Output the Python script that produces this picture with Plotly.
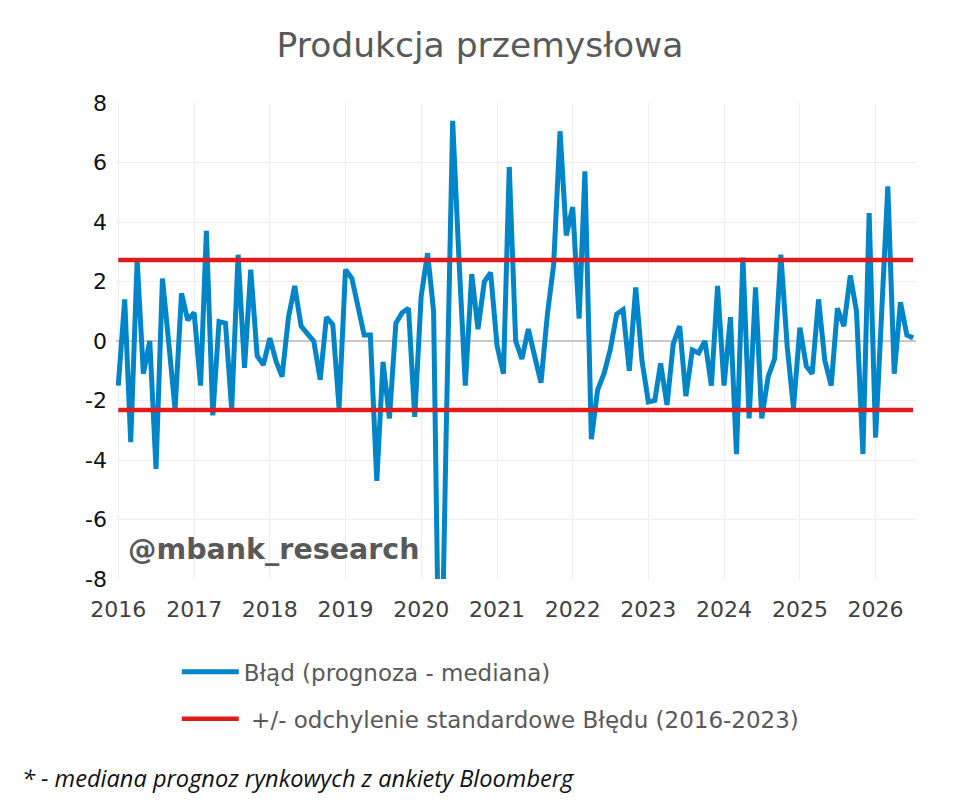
import pandas as pd
import plotly.graph_objs as go

# monthly forecast error, Jan 2016 .. Jul 2026
months = pd.date_range("2016-01-01", periods=127, freq="MS")
blad = [
    -1.5, 1.4, -3.4, 2.7, -1.1, 0.0, -4.3, 2.1, -0.1, -2.3, 1.6, 0.7,      # 2016
    0.95, -1.5, 3.7, -2.5, 0.65, 0.6, -2.3, 2.9, -0.9, 2.4, -0.5, -0.8,    # 2017
    0.1, -0.7, -1.2, 0.8, 1.85, 0.5, 0.25, 0.0, -1.3, 0.8, 0.55, -2.25,    # 2018
    2.4, 2.1, 1.2, 0.2, 0.2, -4.7, -0.7, -2.6, 0.6, 0.95, 1.1, -2.55,      # 2019
    1.5, 2.95, 1.0, -14.0, -3.0, 7.4, 2.8, -1.5, 2.25, 0.4, 2.0, 2.3,      # 2020
    -0.15, -1.1, 5.85, 0.0, -0.6, 0.4, -0.5, -1.4, 0.9, 2.55, 7.05, 3.55,  # 2021
    4.5, 0.75, 5.7, -3.3, -1.65, -1.1, -0.3, 0.9, 1.05, -1.0, 1.8, -0.65,  # 2022
    -2.05, -2.0, -0.75, -2.15, -0.1, 0.5, -1.85, -0.3, -0.4, 0.0, -1.5, 1.85,  # 2023
    -1.5, 0.8, -3.8, 2.8, -2.6, 1.8, -2.6, -1.2, -0.6, 2.9, -0.2, -2.25,   # 2024
    0.45, -0.85, -1.1, 1.4, -0.65, -1.5, 1.1, 0.5, 2.2, 1.0, -3.8, 4.3,    # 2025
    -3.25, 0.9, 5.2, -1.1, 1.3, 0.2, 0.1,                                  # 2026
]
std_upper = 2.72
std_lower = -2.32

year_ticks = [f"{y}-01-01" for y in range(2016, 2027)]
year_labels = [str(y) for y in range(2016, 2027)]
y_ticks = [8, 6, 4, 2, 0, -2, -4, -6, -8]
y_labels = [str(v) for v in y_ticks]  # plain hyphen, like the original

BLUE = "#0085c8"
RED = "#e01b1b"
GREY = "#595959"

fig = go.Figure()

fig.add_trace(go.Scatter(
    x=months, y=blad,
    mode="lines",
    name="Błąd (prognoza - mediana)",
    line=dict(color=BLUE, width=5),
    legendgroup="a",
))

# both std bands as one trace, broken with None
band_x = list(months) + [None] + list(months)
band_y = [std_upper] * len(months) + [None] + [std_lower] * len(months)
fig.add_trace(go.Scatter(
    x=band_x, y=band_y,
    mode="lines",
    name=" +/- odchylenie standardowe Błędu (2016-2023)",
    line=dict(color=RED, width=4.5),
    connectgaps=False,
    legendgroup="b",
))

fig.add_annotation(
    text="@mbank_research",
    xref="paper", yref="paper", x=0.013, y=0.062,
    xanchor="left", yanchor="middle", showarrow=False,
    font=dict(family="DejaVu Sans", size=28.5, color=GREY, weight="bold"),
)
fig.add_annotation(
    text="<i>* - mediana prognoz rynkowych z ankiety Bloomberg</i>",
    xref="paper", yref="paper", x=-0.12, y=-0.418,
    xanchor="left", yanchor="middle", showarrow=False,
    font=dict(family="Open Sans", size=23.6, color="#111111"),
)

# page body has an 8px margin, so the figure is 952x801 and sits at (8, 8)
fig.update_layout(
    width=952, height=801,
    paper_bgcolor="white", plot_bgcolor="white",
    margin=dict(l=108, r=44, t=95, b=230),
    title=dict(text="Produkcja przemysłowa", x=0.4958, xref="container",
               y=0.954, yanchor="middle",
               font=dict(family="DejaVu Sans", size=34.5, color=GREY)),
    font=dict(family="DejaVu Sans", color="#262626"),
    showlegend=True,
    legend=dict(
        x=0.076, y=-0.15, xanchor="left", yanchor="top",
        traceorder="grouped", tracegroupgap=14,
        itemwidth=57,
        font=dict(family="DejaVu Sans", size=23, color=GREY),
        bgcolor="rgba(0,0,0,0)",
    ),
    xaxis=dict(
        type="date",
        range=["2015-12-21", "2026-07-15"],
        tickvals=year_ticks, ticktext=year_labels,
        showgrid=True, gridcolor="#eeeeee", gridwidth=1,
        showline=False, ticks="", zeroline=False,
        tickfont=dict(size=22, color="#404040"),
        ticklabelstandoff=15,
    ),
    yaxis=dict(
        range=[-8, 8],
        tickvals=y_ticks, ticktext=y_labels,
        showgrid=True, gridcolor="#eeeeee", gridwidth=1,
        zeroline=True, zerolinecolor="#c8c8c8", zerolinewidth=1.5,
        showline=False, ticks="",
        tickfont=dict(size=22, color="#111111"),
        ticklabelstandoff=8,
    ),
)

fig.write_html("out.html")
